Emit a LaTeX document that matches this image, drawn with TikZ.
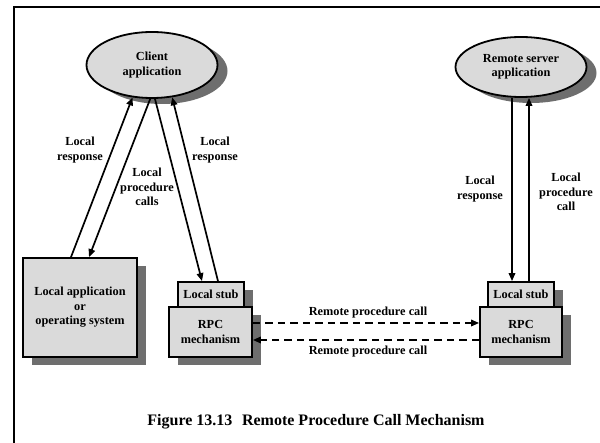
\documentclass[tikz,border=0pt]{standalone}
\usepackage{fontspec}
\setmainfont{Liberation Serif}
\usetikzlibrary{arrows.meta,shapes.geometric,shadows}
\definecolor{boxfill}{HTML}{DADADA}
\definecolor{shade}{HTML}{6E6E6E}
\begin{document}
\begin{tikzpicture}[x=1pt,y=-1pt,
  txt/.style={font=\fontsize{12.3}{14.5}\selectfont\bfseries, align=center, inner sep=0pt},
  boxshadow/.style={drop shadow={shadow xshift=9pt,shadow yshift=-8pt,fill=shade,opacity=1}},
  app/.style={ellipse, draw, line width=1.8pt, fill=boxfill, txt,
     drop shadow={shadow xshift=10pt,shadow yshift=-6pt,fill=shade,opacity=1}},
  box/.style={rectangle, draw, line width=1.8pt, fill=boxfill, txt, boxshadow},
  flow/.style={line width=1.7pt, -{Triangle[length=8pt,width=6.5pt]}},
  remote/.style={flow, dash pattern=on 7.5pt off 5pt},
]
\useasboundingbox (0,0) rectangle (600,443);
% page frame
\draw[line width=2.6pt] (14,443) -- (14,7) -- (600,7);

% applications
\node[app, minimum width=131pt, minimum height=66pt] (client) at (152,65) {Client\\application};
\node[app, minimum width=131pt, minimum height=60pt] (server) at (521,67) {Remote server\\application};

% client side boxes
\node[box, minimum width=114pt, minimum height=99pt] (localapp) at (80,307.5) {Local application\\or\\operating system};
\node[box, minimum width=66pt, minimum height=25pt] (stubL) at (211,294.5) {Local stub};
\node[box, minimum width=83pt, minimum height=50pt] (rpcL) at (210.5,332) {RPC\\mechanism};

% server side boxes
\node[box, minimum width=66pt, minimum height=25pt] (stubR) at (521,294.5) {Local stub};
\node[box, minimum width=82pt, minimum height=50pt] (rpcR) at (521,332) {RPC\\mechanism};

% local calls on the client
\draw[flow] ([xshift=-9pt]localapp.north) -- (client.239);
\draw[flow] (client.267) -- ([xshift=9pt]localapp.north);
\draw[flow] (client.275) -- ([xshift=-9pt]stubL.north);
\draw[flow] ([xshift=7pt]stubL.north) -- (client.302);

% local calls on the server
\draw[flow] ([xshift=-9pt]server.south) -- ([xshift=-9pt]stubR.north);
\draw[flow] ([xshift=8pt]stubR.north) -- ([xshift=8pt]server.south);

% remote calls
\draw[remote] ([yshift=9pt]rpcL.east) -- ([yshift=9pt]rpcR.west);
\draw[remote] ([yshift=-8pt]rpcR.west) -- ([yshift=-8pt]rpcL.east);

% labels
\node[txt] (l1) at (80,150) {Local\\response};
\node[txt] (l2) at (147,187) {Local\\procedure\\calls};
\node[txt] (l3) at (215,150) {Local\\response};
\node[txt] (l4) at (480,189) {Local\\response};
\node[txt] (l5) at (566,192) {Local\\procedure\\call};
\node[txt] (r1) at (368,313) {Remote procedure call};
\node[txt] (r2) at (368,352) {Remote procedure call};

% caption
\node[font=\fontsize{16}{19}\selectfont\bfseries, inner sep=0pt] (cap) at (316,422)
  {Figure 13.13\hspace{0.6em}Remote Procedure Call Mechanism};
\end{tikzpicture}
\end{document}
